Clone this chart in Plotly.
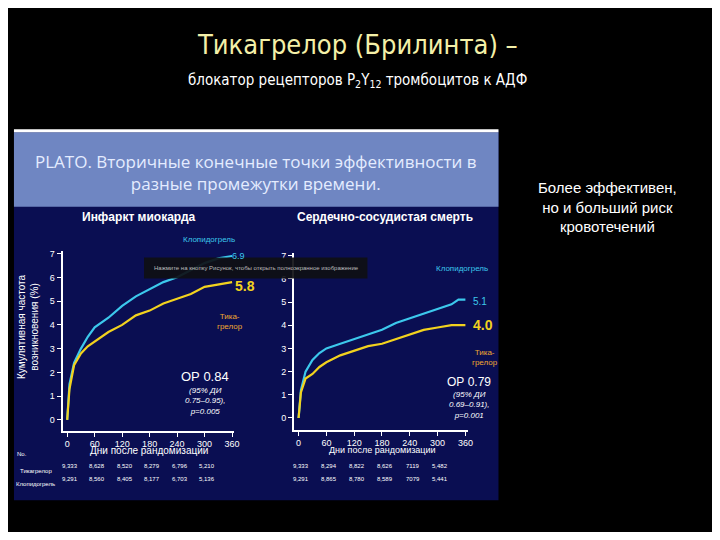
import plotly.graph_objects as go

days = [0, 5, 15, 30, 45, 60, 90, 120, 150, 180, 210, 240, 270, 300, 330, 345, 360]

# Инфаркт миокарда
mi_clopi = [0, 1.5, 2.4, 3.0, 3.5, 3.9, 4.3, 4.8, 5.2, 5.5, 5.8, 6.0, 6.3, 6.6, 6.8, 6.85, 6.9]
mi_tica = [0, 1.3, 2.3, 2.8, 3.1, 3.3, 3.7, 4.0, 4.4, 4.6, 4.9, 5.1, 5.3, 5.6, 5.7, 5.75, 5.8]
# Сердечно-сосудистая смерть
cv_clopi = [0, 1.2, 2.0, 2.5, 2.8, 3.0, 3.2, 3.4, 3.6, 3.8, 4.1, 4.3, 4.5, 4.7, 4.9, 5.1, 5.1]
cv_tica = [0, 1.1, 1.7, 1.9, 2.2, 2.4, 2.7, 2.9, 3.1, 3.2, 3.4, 3.6, 3.8, 3.9, 4.0, 4.0, 4.0]

ticks = [0, 60, 120, 180, 240, 300, 360]
risk_mi_tica = ["9,333", "8,628", "8,520", "8,279", "6,796", "5,210", "4,191"]
risk_mi_clopi = ["9,291", "8,560", "8,405", "8,177", "6,703", "5,136", "4,109"]
risk_cv_tica = ["9,333", "8,294", "8,822", "8,626", "7119", "5,482", "4,419"]
risk_cv_clopi = ["9,291", "8,865", "8,780", "8,589", "7079", "5,441", "4,364"]

CYAN = "#3cc8ec"
YEL = "#f2d21e"
ORANGE = "#f0a830"
# page body has an 8px margin, so the figure is made smaller by that much
OFF = 8
W, H = 720 - 2 * OFF, 540 - 2 * OFF

fig = go.Figure()
for x_ax, y_ax, c, t in [("x", "y", mi_clopi, mi_tica), ("x2", "y2", cv_clopi, cv_tica)]:
    fig.add_trace(go.Scatter(x=days, y=c, mode="lines", line=dict(color=CYAN, width=2.2),
                             xaxis=x_ax, yaxis=y_ax, showlegend=False))
    fig.add_trace(go.Scatter(x=days, y=t, mode="lines", line=dict(color=YEL, width=2.2),
                             xaxis=x_ax, yaxis=y_ax, showlegend=False))

def px(x):
    return (x - OFF) / W

def py(y):
    return 1 - (y - OFF) / H

ax_style = dict(showgrid=False, zeroline=False, showline=True, linecolor="white", linewidth=2,
                ticks="outside", tickcolor="white", ticklen=4,
                tickfont=dict(color="white", size=9, family="Liberation Sans"))
fig.update_layout(
    xaxis=dict(domain=[px(63), px(236)], range=[-10, 365], tickvals=ticks, anchor="y",
               tickprefix="<b>", ticksuffix="</b>", **ax_style),
    yaxis=dict(domain=[py(430), py(249.6)], range=[-0.45, 7.1], dtick=1, anchor="x", **ax_style),
    xaxis2=dict(domain=[px(296), px(471)], range=[-10, 365], tickvals=ticks, anchor="y2",
                tickprefix="<b>", ticksuffix="</b>", **ax_style),
    yaxis2=dict(domain=[py(429), py(251.7)], range=[-0.5, 7.1], dtick=1, anchor="x2", **ax_style),
    width=W, height=H, margin=dict(l=0, r=0, t=0, b=0),
    paper_bgcolor="black", plot_bgcolor="rgba(0,0,0,0)",
    font=dict(family="Liberation Sans", color="white"),
)

shapes = [
    dict(type="rect", xref="paper", yref="paper", x0=px(14), x1=px(502), y0=py(500), y1=py(128),
         fillcolor="#0a0e52", line=dict(width=0), layer="below"),
    dict(type="rect", xref="paper", yref="paper", x0=px(14), x1=px(502), y0=py(205), y1=py(130),
         fillcolor="#6f86c2", line=dict(width=0), layer="below"),
    dict(type="rect", xref="paper", yref="paper", x0=px(14), x1=px(502), y0=py(130), y1=py(127),
         fillcolor="white", line=dict(width=0), layer="below"),
    dict(type="rect", xref="paper", yref="paper", x0=px(145), x1=px(370), y0=py(277), y1=py(256),
         fillcolor="rgba(15,15,20,0.92)", line=dict(width=0), layer="above"),
]
fig.update_layout(shapes=shapes)

def note(x, y, text, size=10, color="white", **kw):
    fam = kw.pop("family", "Liberation Sans")
    fig.add_annotation(xref="paper", yref="paper", x=px(x), y=py(y), text=text, showarrow=False,
                       xanchor="center", yanchor="middle",
                       font=dict(size=size, color=color, family=fam), **kw)

note(360, 42, "Тикагрелор (Брилинта) –", 27, "#f4f0a8", family="DejaVu Sans Condensed")
note(360, 78, "блокатор рецепторов P<sub>2</sub>Y<sub>12</sub> тромбоцитов к АДФ", 15, "white",
     family="DejaVu Sans Condensed")
note(612, 205, "Более эффективен,<br>но и больший риск<br>кровотечений", 15, "white")
note(258, 170, "PLATO. Вторичные конечные точки эффективности в<br>разные промежутки времени.", 17,
     "#e4ecff", family="Open Sans")
note(140, 215, "<b>Инфаркт миокарда</b>", 12)
note(388, 215, "<b>Сердечно-сосудистая смерть</b>", 12)
note(258, 266, "Нажмите на кнопку Рисунок, чтобы открыть полноэкранное изображение", 6, "#bbbbbb")

note(28, 325, "Кумулятивная частота<br>возникновения (%)", 10, textangle=-90)
note(150, 450, "Дни после рандомизации", 10)
note(385, 450, "Дни после рандомизации", 9)
note(22, 454, "No.", 6)

note(210, 238, "Клопидогрель", 8, CYAN)
note(240, 254, "6.9", 9, CYAN)
note(247, 285, "<b>5.8</b>", 14, YEL)
note(232, 320, "Тика-<br>грелор", 8, ORANGE)
note(206, 376, "ОР 0.84", 13)
note(206, 400, "<i>(95% ДИ<br>0.75–0.95),<br>p=0.005</i>", 8, align="center")

note(465, 267, "Клопидогрель", 8, CYAN)
note(483, 300, "5.1", 10, CYAN)
note(486, 324, "<b>4.0</b>", 14, YEL)
note(488, 356, "Тика-<br>грелор", 8, ORANGE)
note(472, 381, "ОР 0.79", 12)
note(472, 404, "<i>(95% ДИ<br>0.69–0.91),<br>p=0.001</i>", 8, align="center")

note(36, 471, "Тикагрелор", 6)
note(36, 484, "Клопидогрель", 6)
for x_ref, row_t, row_c in [("x", risk_mi_tica, risk_mi_clopi), ("x2", risk_cv_tica, risk_cv_clopi)]:
    for d, a, b in zip(ticks, row_t, row_c):
        fig.add_annotation(xref=x_ref, yref="paper", x=d + 6, y=py(471), text=a, showarrow=False,
                           font=dict(size=6, color="white"))
        fig.add_annotation(xref=x_ref, yref="paper", x=d + 6, y=py(484), text=b, showarrow=False,
                           font=dict(size=6, color="white"))

fig.write_html("out.html")
